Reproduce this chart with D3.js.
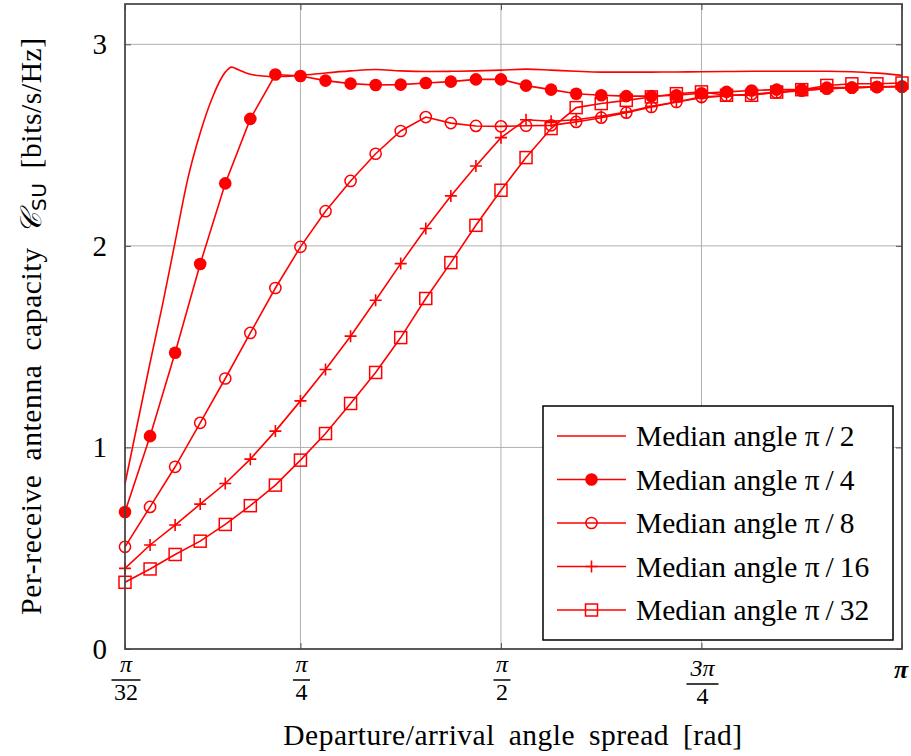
<!DOCTYPE html>
<html>
<head>
<meta charset="utf-8">
<script src="https://cdn.jsdelivr.net/npm/d3@7"></script>
<style>
  body { margin: 0; background: #fff; }
  svg { display: block; }
  text { font-family: "Liberation Serif", "Times New Roman", serif; }
</style>
</head>
<body>
<div id="graph"></div>
<script>
// spread grid, in units of pi/32
var spreadK = [1,2,3,4,5,6,7,8,9,10,11,12,13,14,15,16,17,18,19,20,21,22,23,24,25,26,27,28,29,30,31,32];
// the pi/2 curve was sampled finer, in units of pi/64
var spreadFine = [2,3,4,5,6,7,8,9,10,10.5,11,12,13,14,16,18,20,22,24,26,28,30,32,34,36,38,40,42,44,46,48,50,52,54,56,58,60,62,64];

var capPi2 = [0.82,1.12,1.42,1.71,2.02,2.33,2.56,2.74,2.862,2.887,2.875,2.851,2.843,2.840,2.846,2.858,2.868,2.875,2.868,2.865,2.866,2.868,2.872,2.877,2.872,2.866,2.862,2.862,2.862,2.863,2.864,2.865,2.866,2.866,2.866,2.866,2.864,2.857,2.846];
var capPi4 = [0.68,1.056,1.47,1.91,2.31,2.63,2.85,2.843,2.82,2.805,2.798,2.80,2.808,2.815,2.826,2.826,2.795,2.775,2.755,2.747,2.743,2.743,2.747,2.757,2.764,2.771,2.775,2.776,2.785,2.785,2.788,2.791];
var capPi8 = [0.507,0.705,0.904,1.122,1.342,1.568,1.791,1.995,2.172,2.322,2.457,2.570,2.639,2.609,2.595,2.593,2.596,2.598,2.615,2.636,2.661,2.689,2.714,2.739,2.745,2.752,2.760,2.770,2.780,2.785,2.788,2.790];
var capPi16 = [0.40,0.516,0.615,0.719,0.821,0.942,1.081,1.231,1.387,1.552,1.730,1.912,2.086,2.248,2.396,2.537,2.626,2.618,2.626,2.643,2.664,2.692,2.714,2.735,2.745,2.752,2.762,2.772,2.780,2.785,2.789,2.792];
var capPi32 = [0.331,0.397,0.469,0.535,0.618,0.711,0.813,0.937,1.069,1.218,1.372,1.545,1.739,1.917,2.102,2.276,2.438,2.582,2.686,2.706,2.722,2.739,2.755,2.764,2.747,2.747,2.763,2.775,2.796,2.804,2.804,2.808];

var legendLabels = ["Median angle \u03c0\u2009/\u20092", "Median angle \u03c0\u2009/\u20094", "Median angle \u03c0\u2009/\u20098", "Median angle \u03c0\u2009/\u200916", "Median angle \u03c0\u2009/\u200932"];
var markerTypes = ["none", "dot", "circle", "plus", "square"];

var yTicks = [0, 1, 2, 3];
var xTicks = [Math.PI/32, Math.PI/4, Math.PI/2, 3*Math.PI/4, Math.PI];
var xTickNum = ["\u03c0", "\u03c0", "\u03c0", "3\u03c0", null];
var xTickDen = ["32", "4", "2", "4", null];

var W = 911, H = 756;
var margin = {top: 4, right: 9, bottom: 107, left: 125};
var width = W - margin.left - margin.right,
    height = H - margin.top - margin.bottom;

var svg = d3.select("#graph").append("svg")
    .attr("width", W).attr("height", H);
var g = svg.append("g")
    .attr("transform", "translate(" + margin.left + "," + margin.top + ")");

var x = d3.scaleLinear().domain([Math.PI/32, Math.PI]).range([0, width]);
var y = d3.scaleLinear().domain([0, 3.2]).range([height, 0]);

// grid
g.append("g").selectAll("line.gx").data(xTicks).enter().append("line")
    .attr("x1", d => x(d)).attr("x2", d => x(d)).attr("y1", 0).attr("y2", height)
    .attr("stroke", "#b0b0b0").attr("stroke-width", 1);
g.append("g").selectAll("line.gy").data(yTicks).enter().append("line")
    .attr("y1", d => y(d)).attr("y2", d => y(d)).attr("x1", 0).attr("x2", width)
    .attr("stroke", "#b0b0b0").attr("stroke-width", 1);

// inward ticks on all four sides
var tl = 6;
var axB = d3.axisBottom(x).tickValues(xTicks).tickSize(-tl).tickFormat("");
var axT = d3.axisTop(x).tickValues(xTicks).tickSize(-tl).tickFormat("");
var axL = d3.axisLeft(y).tickValues(yTicks).tickSize(-tl).tickFormat("");
var axR = d3.axisRight(y).tickValues(yTicks).tickSize(-tl).tickFormat("");
[[axB, "translate(0," + height + ")"], [axT, null], [axL, null], [axR, "translate(" + width + ",0)"]].forEach(function(a) {
  var sel = g.append("g").call(a[0]);
  if (a[1]) sel.attr("transform", a[1]);
  sel.select(".domain").remove();
  sel.selectAll("line").attr("stroke", "#555").attr("stroke-width", 1);
});

// tick labels
g.selectAll("text.yt").data(yTicks).enter().append("text")
    .attr("x", -18).attr("y", d => y(d) + 10)
    .attr("text-anchor", "end").attr("font-size", 29)
    .text(d => d);

xTicks.forEach(function(v, i) {
  var cx = x(v) + 1;
  if (xTickNum[i] === null) {
    g.append("text").attr("x", cx - 2).attr("y", height + 29)
      .attr("text-anchor", "middle").attr("font-size", 26)
      .attr("font-style", "italic").attr("font-weight", "bold")
      .text("\u03c0");
    return;
  }
  // the 3pi/4 fraction sits a bit lower, as its numerator is taller
  var off = xTickNum[i].length > 1 ? 4 : 0;
  g.append("text").attr("x", cx).attr("y", height + 23 + off)
    .attr("text-anchor", "middle").attr("font-size", 24)
    .attr("font-style", "italic").text(xTickNum[i]);
  var lw = xTickDen[i].length > 1 ? 29 : 17;
  if (xTickNum[i].length > 1) lw = 32;
  g.append("line").attr("x1", cx - lw/2).attr("x2", cx + lw/2)
    .attr("y1", height + 31 + off).attr("y2", height + 31 + off)
    .attr("stroke", "#000").attr("stroke-width", 1.5);
  g.append("text").attr("x", cx).attr("y", height + 50.5 + off)
    .attr("text-anchor", "middle").attr("font-size", 24)
    .text(xTickDen[i]);
});

// curves
var lineFine = d3.line()
    .x((d, i) => x(spreadFine[i] * Math.PI / 64))
    .y(d => y(d))
    .curve(d3.curveMonotoneX);
var lineK = d3.line()
    .x((d, i) => x(spreadK[i] * Math.PI / 32))
    .y(d => y(d));

var plot = g.append("g");
plot.append("path").attr("d", lineFine(capPi2))
    .attr("fill", "none").attr("stroke", "#ff0000").attr("stroke-width", 1.6);

var seriesK = [capPi4, capPi8, capPi16, capPi32];
var markK = ["dot", "circle", "plus", "square"];

function drawMark(sel, type) {
  if (type === "dot") {
    sel.append("circle").attr("r", 6.3).attr("fill", "#ff0000");
  } else if (type === "circle") {
    sel.append("circle").attr("r", 5.6).attr("fill", "none")
      .attr("stroke", "#ff0000").attr("stroke-width", 1.5);
  } else if (type === "plus") {
    sel.append("path").attr("d", "M-6,0H6M0,-6V6")
      .attr("stroke", "#ff0000").attr("stroke-width", 1.6);
  } else if (type === "square") {
    sel.append("rect").attr("x", -6).attr("y", -6).attr("width", 12).attr("height", 12)
      .attr("fill", "none").attr("stroke", "#ff0000").attr("stroke-width", 1.5);
  }
}

seriesK.forEach(function(s, si) {
  plot.append("path").attr("d", lineK(s))
    .attr("fill", "none").attr("stroke", "#ff0000").attr("stroke-width", 1.6);
  plot.append("g").selectAll("g").data(s).enter().append("g")
    .attr("transform", (d, i) => "translate(" + x(spreadK[i] * Math.PI / 32) + "," + y(d) + ")")
    .each(function() { drawMark(d3.select(this), markK[si]); });
});

// frame
g.append("rect").attr("x", 0).attr("y", 0).attr("width", width).attr("height", height)
    .attr("fill", "none").attr("stroke", "#444").attr("stroke-width", 1.7);

// legend
var lg = svg.append("g").attr("transform", "translate(543,406)");
lg.append("rect").attr("width", 350).attr("height", 234)
    .attr("fill", "#fff").attr("stroke", "#000").attr("stroke-width", 1.5);
legendLabels.forEach(function(lab, i) {
  var row = lg.append("g").attr("transform", "translate(0," + (30 + i * 43.5) + ")");
  row.append("line").attr("x1", 14).attr("x2", 83)
    .attr("stroke", "#ff0000").attr("stroke-width", 1.6);
  var m = row.append("g").attr("transform", "translate(48.5,0)");
  drawMark(m, markerTypes[i]);
  row.append("text").attr("x", 93).attr("y", 10)
    .attr("font-size", 29.5).text(lab);
});

// axis titles
svg.append("text")
    .attr("x", 513).attr("y", 745)
    .attr("text-anchor", "middle").attr("font-size", 29.5)
    .attr("letter-spacing", 0.5).attr("word-spacing", 6)
    .text("Departure/arrival angle spread [rad]");

var yl = svg.append("text")
    .attr("transform", "translate(41,326) rotate(-90)")
    .attr("text-anchor", "middle").attr("font-size", 29.5)
    .attr("letter-spacing", 0.6).attr("word-spacing", 6);
yl.append("tspan").text("Per-receive antenna capacity ");
yl.append("tspan").attr("font-family", "DejaVu Serif").attr("font-style", "italic").text("\ud835\udc9e");
yl.append("tspan").attr("font-family", "DejaVu Sans").attr("font-size", 20).attr("dy", 5).text("SU");
yl.append("tspan").attr("dy", -5).text(" [bits/s/Hz]");
</script>
</body>
</html>
